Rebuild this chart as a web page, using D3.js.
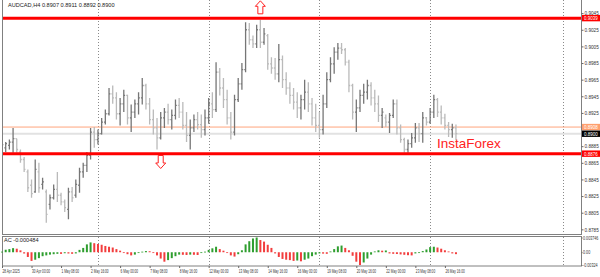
<!DOCTYPE html>
<html>
<head>
<meta charset="utf-8">
<script src="https://cdn.jsdelivr.net/npm/d3@7"></script>
<style>
body { margin: 0; background: #fff; }
svg { display: block; }
text { font-family: "Liberation Sans", Arial, sans-serif; }
</style>
</head>
<body>
<svg id="chart" width="600" height="277"></svg>
<script>
const W = 600, H = 277;

// AUDCAD H4 bars, first one is 28 Apr 16:00
const opens = [0.8881,0.8883,0.8886,0.8890,0.8894,0.8878,0.8869,0.8854,0.8838,0.8830,
  0.8854,0.8839,0.8830,0.8815,0.8823,0.8833,0.8826,0.8818,0.8809,0.8830,
  0.8826,0.8838,0.8854,0.8862,0.8874,0.8902,0.8893,0.8900,0.8914,0.8924,
  0.8948,0.8943,0.8924,0.8936,0.8946,0.8919,0.8926,0.8936,0.8943,0.8958,
  0.8936,0.8917,0.8907,0.8895,0.8919,0.8926,0.8917,0.8922,0.8934,0.8926,
  0.8910,0.8898,0.8907,0.8917,0.8911,0.8905,0.8919,0.8936,0.8929,0.8974,
  0.8955,0.8941,0.8919,0.8902,0.8941,0.8960,0.8977,0.9025,0.9013,0.9008,
  0.9025,0.9010,0.9018,0.8984,0.8979,0.8972,0.8989,0.8965,0.8955,0.8946,
  0.8938,0.8931,0.8941,0.8950,0.8936,0.8919,0.8910,0.8905,0.8936,0.8965,
  0.8984,0.8998,0.9003,0.9001,0.8986,0.8958,0.8926,0.8931,0.8946,0.8950,
  0.8958,0.8943,0.8936,0.8922,0.8919,0.8914,0.8922,0.8936,0.8907,0.8893,
  0.8881,0.8888,0.8895,0.8907,0.8900,0.8919,0.8914,0.8926,0.8941,0.8926,
  0.8919,0.8910,0.8905,0.8907];
const highs = [0.8889,0.8890,0.8893,0.8907,0.8894,0.8881,0.8872,0.8857,0.8845,0.8869,
  0.8865,0.8847,0.8833,0.8827,0.8839,0.8854,0.8829,0.8821,0.8835,0.8836,
  0.8845,0.8859,0.8865,0.8878,0.8907,0.8908,0.8905,0.8919,0.8929,0.8955,
  0.8958,0.8950,0.8943,0.8953,0.8947,0.8935,0.8941,0.8950,0.8967,0.8960,
  0.8943,0.8929,0.8919,0.8926,0.8931,0.8936,0.8929,0.8941,0.8943,0.8938,
  0.8926,0.8917,0.8923,0.8926,0.8923,0.8929,0.8943,0.8950,0.8986,0.8979,
  0.8967,0.8953,0.8926,0.8947,0.8967,0.8985,0.9034,0.9033,0.9018,0.9031,
  0.9037,0.9027,0.9020,0.8992,0.8991,0.9008,0.8994,0.8974,0.8962,0.8955,
  0.8950,0.8947,0.8965,0.8962,0.8943,0.8936,0.8926,0.8947,0.8974,0.8992,
  0.9004,0.9009,0.9009,0.9003,0.8989,0.8960,0.8941,0.8953,0.8960,0.8965,
  0.8962,0.8953,0.8946,0.8931,0.8923,0.8925,0.8941,0.8941,0.8911,0.8895,
  0.8893,0.8901,0.8913,0.8913,0.8926,0.8920,0.8931,0.8947,0.8943,0.8934,
  0.8924,0.8914,0.8912,0.8911];
const lows = [0.8878,0.8878,0.8881,0.8877,0.8877,0.8865,0.8854,0.8830,0.8823,0.8829,
  0.8829,0.8833,0.8793,0.8809,0.8821,0.8818,0.8814,0.8806,0.8797,0.8818,
  0.8823,0.8829,0.8847,0.8854,0.8869,0.8883,0.8887,0.8899,0.8911,0.8922,
  0.8936,0.8917,0.8910,0.8926,0.8911,0.8902,0.8919,0.8923,0.8935,0.8929,
  0.8911,0.8899,0.8881,0.8893,0.8907,0.8911,0.8905,0.8917,0.8919,0.8905,
  0.8890,0.8881,0.8902,0.8905,0.8895,0.8898,0.8912,0.8919,0.8926,0.8946,
  0.8931,0.8911,0.8893,0.8898,0.8938,0.8953,0.8974,0.9007,0.9003,0.9003,
  0.9003,0.9007,0.8977,0.8972,0.8965,0.8962,0.8955,0.8947,0.8936,0.8929,
  0.8919,0.8917,0.8929,0.8926,0.8910,0.8902,0.8895,0.8899,0.8931,0.8962,
  0.8972,0.8989,0.8996,0.8982,0.8950,0.8917,0.8902,0.8926,0.8936,0.8941,
  0.8934,0.8926,0.8914,0.8907,0.8908,0.8901,0.8919,0.8899,0.8889,0.8877,
  0.8877,0.8883,0.8889,0.8890,0.8889,0.8910,0.8912,0.8919,0.8920,0.8911,
  0.8905,0.8896,0.8895,0.8892];
const closes = [0.8887,0.8888,0.8890,0.8894,0.8881,0.8869,0.8857,0.8835,0.8828,0.8857,
  0.8835,0.8842,0.8803,0.8823,0.8833,0.8826,0.8818,0.8811,0.8830,0.8823,
  0.8839,0.8854,0.8862,0.8874,0.8902,0.8893,0.8900,0.8914,0.8924,0.8948,
  0.8943,0.8924,0.8936,0.8946,0.8919,0.8926,0.8936,0.8943,0.8958,0.8936,
  0.8917,0.8907,0.8895,0.8919,0.8926,0.8917,0.8922,0.8934,0.8926,0.8910,
  0.8898,0.8907,0.8917,0.8911,0.8905,0.8919,0.8936,0.8929,0.8974,0.8955,
  0.8941,0.8919,0.8902,0.8941,0.8960,0.8977,0.9025,0.9013,0.9008,0.9025,
  0.9010,0.9020,0.8984,0.8979,0.8972,0.8989,0.8965,0.8955,0.8946,0.8938,
  0.8931,0.8941,0.8950,0.8936,0.8919,0.8910,0.8905,0.8936,0.8965,0.8984,
  0.8998,0.9003,0.9001,0.8986,0.8958,0.8926,0.8931,0.8946,0.8950,0.8958,
  0.8943,0.8936,0.8922,0.8926,0.8914,0.8922,0.8936,0.8907,0.8893,0.8881,
  0.8888,0.8895,0.8907,0.8900,0.8919,0.8914,0.8926,0.8941,0.8926,0.8919,
  0.8910,0.8905,0.8907,0.8900];

// Accelerator Oscillator
const acValues = [0.00015,0.00064,0.0008,0.00104,0.0009,0.00048,-0.00032,-0.0012,-0.0022,-0.0019,
  -0.0015,-0.001,-0.0008,-0.0006,-0.0005,-0.0004,-0.00042,-0.00025,-0.00032,-0.0004,
  -0.0003,0.0006,0.0011,0.002,0.0025,0.0023,0.0021,0.0019,0.0016,0.0014,
  0.0012,0.0008,0.0004,-0.00015,-0.0005,-0.0008,-0.0006,-0.0002,0.00015,0.0003,
  0.00025,-0.0001,-0.0008,-0.0016,-0.0024,-0.002,-0.0015,-0.001,-0.0006,-0.00065,
  -0.0007,-0.0006,-0.00065,-0.0007,-0.0002,0.00015,0.0006,0.001,0.0014,0.0008,
  0.0004,-0.0002,-0.0008,-0.0011,-0.0005,0.0005,0.002,0.0028,0.0035,0.003746,
  0.0031,0.0027,0.0019,0.0011,-0.0003,-0.0012,-0.0017,-0.0019,-0.002,-0.0022,
  -0.0021,-0.0023,-0.0019,-0.0016,-0.001,-0.0006,-0.0003,-0.00035,-0.0004,0.0002,
  0.0008,0.0015,0.0017,0.0011,0.0005,-0.0009,-0.0024,-0.00324,-0.0026,-0.0016,
  -0.0006,0.0002,0.0005,0.0004,0.00045,-0.0003,-0.0004,-0.00045,-0.00055,-0.00065,
  -0.00075,-0.0008,-0.0003,-0.0001,0.0003,0.0007,0.0013,0.0014,0.0012,0.0009,
  0.0005,0.0002,-0.0003,-0.000484];

// 0.8905 sits under the bid/ask boxes in the reference, so it is left out
const priceTicks = [0.9045, 0.9025, 0.9005, 0.8985, 0.8965, 0.8945, 0.8925,
  0.8885, 0.8865, 0.8845, 0.8825, 0.8805, 0.8785];
const acTicks = [0.003746, 0, -0.00324];
const acTickLabels = ["0.003746", "0.00", "-0.00324"];
const timeBars = [0, 8, 16, 24, 32, 40, 48, 56, 64, 72, 80, 88, 96, 104, 112, 120];
const timeLabels = ["28 Apr 2025", "30 Apr 00:00", "1 May 08:00", "2 May 16:00", "6 May 00:00",
  "7 May 08:00", "8 May 16:00", "12 May 00:00", "13 May 08:00", "14 May 16:00", "16 May 00:00",
  "19 May 08:00", "20 May 16:00", "22 May 00:00", "23 May 08:00", "26 May 16:00"];
const separatorBars = [26, 56, 86, 116, 152];

const resistance = 0.9039;
const support = 0.8876;
const askPrice = 0.8908;
const bidPrice = 0.8900;
const arrows = [{ bar: 70, price: 0.9052, dir: "up" }, { bar: 43, price: 0.8866, dir: "down" }];

const left = 2, right = 581, mainBottom = 234.5, acTop = 236.5, acBottom = 266;

const x = d3.scaleLinear().domain([0, 152]).range([left, 563]);
const y = d3.scaleLinear().domain([0.87788, 0.90608]).range([mainBottom, 0]);
const yAc = d3.scaleLinear().domain([-0.00324, 0.003746]).range([265, 237.5]);

// the terminal font is narrow: squeeze the text horizontally around its x
function squeeze(sel, factor) {
  sel.each(function () {
    const t = d3.select(this);
    const x0 = +t.attr("x") || 0;
    t.attr("transform", `translate(${x0},0) scale(${factor},1) translate(${-x0},0)`);
  });
}

const svg = d3.select("#chart");
svg.append("rect").attr("width", W).attr("height", H).attr("fill", "#fff");

svg.append("defs").append("clipPath").attr("id", "mainClip")
  .append("rect").attr("x", left).attr("y", 0).attr("width", right - left).attr("height", mainBottom);

// weekly separators (dotted)
svg.append("g").selectAll("line")
  .data(separatorBars)
  .join("line")
  .attr("x1", d => Math.round(x(d)) + 0.5).attr("x2", d => Math.round(x(d)) + 0.5)
  .attr("y1", 0).attr("y2", acBottom)
  .attr("stroke", "#8a8a8a").attr("stroke-dasharray", "1,2");

const main = svg.append("g").attr("clip-path", "url(#mainClip)");

// bid line (light gray) and ask line (orange)
main.append("line")
  .attr("x1", left).attr("x2", right).attr("y1", y(bidPrice)).attr("y2", y(bidPrice))
  .attr("stroke", "#e2e2e2").attr("stroke-width", 2);
main.append("line")
  .attr("x1", left).attr("x2", right).attr("y1", y(askPrice)).attr("y2", y(askPrice))
  .attr("stroke", "#ffa47c").attr("stroke-width", 1);

// OHLC bars
const bars = main.append("g").selectAll("g")
  .data(opens.map((o, i) => ({ i, o, h: highs[i], l: lows[i], c: closes[i] })))
  .join("g")
  .attr("stroke", d => d.c >= d.o ? "#767676" : "#bababa")
  .attr("stroke-width", 1.3);
bars.append("line")
  .attr("x1", d => x(d.i)).attr("x2", d => x(d.i))
  .attr("y1", d => y(d.h)).attr("y2", d => y(d.l));
bars.append("line")
  .attr("x1", d => x(d.i) - 1.3).attr("x2", d => x(d.i))
  .attr("y1", d => y(d.o)).attr("y2", d => y(d.o));
bars.append("line")
  .attr("x1", d => x(d.i)).attr("x2", d => x(d.i) + 1.3)
  .attr("y1", d => y(d.c)).attr("y2", d => y(d.c));

// support / resistance
main.selectAll(".level")
  .data([resistance, support])
  .join("line")
  .attr("class", "level")
  .attr("x1", left).attr("x2", right)
  .attr("y1", d => y(d)).attr("y2", d => y(d))
  .attr("stroke", "#ff0000").attr("stroke-width", 3);

// hollow arrows
const arrowPath = "M0,-6.5 L5,-1 L2.5,-1 L2.5,6.5 L-2.5,6.5 L-2.5,-1 L-5,-1 Z";
main.selectAll(".arrow")
  .data(arrows)
  .join("path")
  .attr("class", "arrow")
  .attr("d", arrowPath)
  .attr("transform", d => `translate(${x(d.bar)},${y(d.price)}) rotate(${d.dir === "up" ? 0 : 180})`)
  .attr("fill", "#fff").attr("stroke", "#ff2020").attr("stroke-width", 1);

main.append("text")
  .attr("x", 437).attr("y", 148)
  .attr("font-size", 13.5).attr("fill", "#ff2222")
  .text("InstaForex");

// panel frames
svg.append("rect").attr("x", left + 0.5).attr("y", -1).attr("width", right - left).attr("height", mainBottom + 1)
  .attr("fill", "none").attr("stroke", "#808080");
svg.append("rect").attr("x", left + 0.5).attr("y", acTop).attr("width", right - left).attr("height", acBottom - acTop)
  .attr("fill", "none").attr("stroke", "#808080");

// AC histogram
svg.append("g").selectAll("rect")
  .data(acValues)
  .join("rect")
  .attr("x", (d, i) => x(i) - 1)
  .attr("width", 2)
  .attr("y", d => Math.min(yAc(d), yAc(0)))
  .attr("height", d => Math.max(0.8, Math.abs(yAc(d) - yAc(0))))
  .attr("fill", (d, i) => i === 0 || d > acValues[i - 1] ? "#2f9e2f" : "#f23d3d");

// titles
svg.append("text").attr("x", 8).attr("y", 7).attr("font-size", 5.6).attr("fill", "#222")
  .text(`AUDCAD,H4  ${opens[123].toFixed(4)} ${highs[123].toFixed(4)} ${lows[123].toFixed(4)} ${closes[123].toFixed(4)}`);
svg.append("text").attr("x", 4).attr("y", 242).attr("font-size", 5.6).attr("fill", "#222")
  .text(`AC ${acValues[acValues.length - 1]}`);

// right price axis
const yAxis = svg.append("g")
  .attr("transform", `translate(${right + 0.5},0)`)
  .call(d3.axisRight(y).tickValues(priceTicks).tickSize(2).tickPadding(1).tickFormat(d3.format(".4f")));
yAxis.select(".domain").remove();
yAxis.selectAll("text").attr("font-size", 5.5).attr("fill", "#333").attr("font-family", "Liberation Sans, Arial, sans-serif")
  .call(squeeze, 0.85);
yAxis.selectAll("line").attr("stroke", "#666");

// AC axis
const acAxis = svg.append("g")
  .attr("transform", `translate(${right + 0.5},0)`)
  .call(d3.axisRight(yAc).tickValues(acTicks).tickSize(1).tickPadding(0.5).tickFormat((d, i) => acTickLabels[i]));
acAxis.select(".domain").remove();
acAxis.selectAll("text").attr("font-size", 5.3).attr("fill", "#333").attr("font-family", "Liberation Sans, Arial, sans-serif")
  .call(squeeze, 0.7);
acAxis.selectAll("line").attr("stroke", "#666");

// price label boxes
const boxes = [
  { price: resistance, fill: "#ff0000", color: "#fff" },
  { price: askPrice, fill: "#ff9f6e", color: "#fff" },
  { price: bidPrice, fill: "#000", color: "#fff" },
  { price: support, fill: "#ff0000", color: "#fff" }
];
const box = svg.append("g").selectAll("g")
  .data(boxes)
  .join("g")
  .attr("transform", d => `translate(${right + 1},${y(d.price)})`);
box.append("rect").attr("x", 0).attr("y", -3.2).attr("width", 18).attr("height", 6.4).attr("fill", d => d.fill);
box.append("text").attr("x", 2).attr("y", 1.9).attr("font-size", 5.3).attr("fill", d => d.color)
  .text(d => d.price.toFixed(4))
  .call(squeeze, 0.85);

// time axis
const xAxis = svg.append("g")
  .attr("transform", `translate(0,${acBottom})`)
  .call(d3.axisBottom(x).tickValues(timeBars).tickSize(2).tickPadding(1).tickFormat((d, i) => timeLabels[i]));
xAxis.select(".domain").remove();
xAxis.selectAll("text").attr("font-size", 5.5).attr("fill", "#333").attr("text-anchor", "start")
  .attr("font-family", "Liberation Sans, Arial, sans-serif")
  .call(squeeze, 0.58);
xAxis.selectAll("line").attr("stroke", "#666");
</script>
</body>
</html>
